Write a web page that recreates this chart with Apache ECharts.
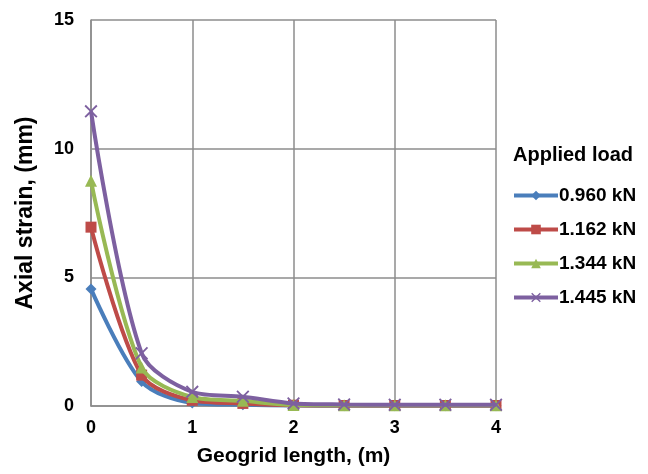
<!DOCTYPE html>
<html>
<head>
<meta charset="utf-8">
<script src="https://cdn.jsdelivr.net/npm/echarts@6/dist/echarts.min.js"></script>
<style>
  html, body { margin: 0; padding: 0; background: #fff; }
  #chart { width: 648px; height: 474px; }
</style>
</head>
<body>
<div id="chart"></div>
<script>
// geogrid length (m)
const lengths = [0, 0.5, 1, 1.5, 2, 2.5, 3, 3.5, 4]
// axial strain (mm) per applied load
const load0960 = [4.55, 0.95, 0.12, 0.05, 0.02, 0.01, 0.01, 0.01, 0.01]
const load1162 = [6.95, 1.2, 0.22, 0.1, 0.03, 0.02, 0.02, 0.02, 0.02]
const load1344 = [8.75, 1.5, 0.35, 0.2, 0.04, 0.03, 0.03, 0.03, 0.03]
const load1445 = [11.45, 2.05, 0.55, 0.36, 0.1, 0.06, 0.05, 0.05, 0.05]

const loadNames = ['0.960 kN', '1.162 kN', '1.344 kN', '1.445 kN']
const colors = ['#4a7ebb', '#be4b48', '#98b954', '#7d60a0']
const symbols = [
  'diamond',
  'rect',
  'triangle',
  'path://M0,1L1,0L5,4L9,0L10,1L6,5L10,9L9,10L5,6L1,10L0,9L4,5Z'
]
const symbolSizes = [11, 11, 12, 13]

const font = 'Liberation Sans, Arial, sans-serif'
const chart = echarts.init(document.getElementById('chart'))

const series = [load0960, load1162, load1344, load1445].map(function (vals, i) {
  return {
    name: loadNames[i],
    type: 'line',
    smooth: 0.3,
    data: vals.map(function (v, j) { return [lengths[j], v] }),
    symbol: symbols[i],
    symbolSize: symbolSizes[i],
    lineStyle: { width: 4, color: colors[i] },
    itemStyle: { color: colors[i] },
    z: 2 + i
  }
})

chart.setOption({
  animation: false,
  backgroundColor: '#fff',
  color: colors,
  title: {
    text: 'Applied load',
    left: 508,
    top: 140,
    textStyle: { fontFamily: font, fontWeight: 'bold', fontSize: 20, color: '#000' }
  },
  legend: {
    orient: 'vertical',
    left: 507,
    top: 181,
    itemWidth: 44,
    itemHeight: 12,
    itemGap: 15,
    data: loadNames,
    lineStyle: { width: 4 },
    textStyle: { fontFamily: font, fontWeight: 'bold', fontSize: 19, color: '#000', padding: [0, 0, 0, -4] }
  },
  grid: { left: 91, right: 152, top: 20, bottom: 68 },
  xAxis: {
    type: 'value',
    min: 0,
    max: 4,
    interval: 1,
    name: 'Geogrid length, (m)',
    nameLocation: 'middle',
    nameGap: 40,
    nameTextStyle: { fontFamily: font, fontWeight: 'bold', fontSize: 21, color: '#000' },
    axisLine: { lineStyle: { color: '#8c8c8c', width: 1.5 } },
    axisTick: { show: false },
    axisLabel: { fontFamily: font, fontWeight: 'bold', fontSize: 18, color: '#000', margin: 13 },
    splitLine: { lineStyle: { color: '#8c8c8c', width: 1.5 } }
  },
  yAxis: {
    type: 'value',
    min: 0,
    max: 15,
    interval: 5,
    name: 'Axial strain, (mm)',
    nameLocation: 'middle',
    nameGap: 54,
    nameTextStyle: { fontFamily: font, fontWeight: 'bold', fontSize: 23, color: '#000' },
    axisLine: { show: true, lineStyle: { color: '#8c8c8c', width: 1.5 } },
    axisTick: { show: false },
    axisLabel: { fontFamily: font, fontWeight: 'bold', fontSize: 18, color: '#000', margin: 17 },
    splitLine: { lineStyle: { color: '#8c8c8c', width: 1.5 } }
  },
  series: series
})
</script>
</body>
</html>
